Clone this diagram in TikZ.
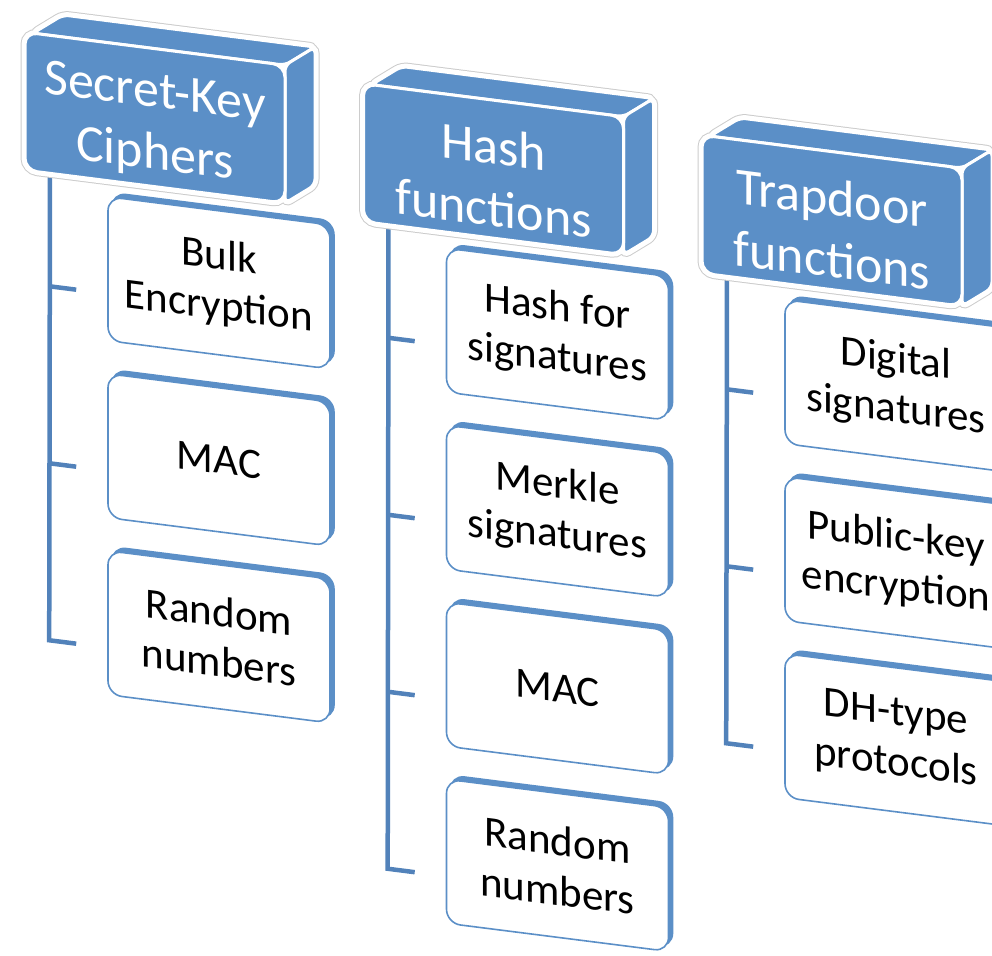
\documentclass[tikz,border=0pt]{standalone}
\usepackage{fontspec}
\setmainfont{Carlito}
\usetikzlibrary{calc,shadows}
\definecolor{accent}{HTML}{5B8FC7}
\definecolor{conn}{HTML}{5282BA}
\newcommand\blockfaces[1]{%
  \path[#1, rounded corners=6pt] (33,29) -- (63,7) -- (315,7) -- (285,29) -- cycle;
  \path[#1, rounded corners=6pt] (285,29) -- (315,7) -- (315,145) -- (285,167) -- cycle;
  \path[#1, rounded corners=12pt] (25,29) rectangle (285,167);
}
\begin{document}
\begin{tikzpicture}[x=1pt,y=-1pt,
  hdrtext/.style={text=white, font=\fontsize{52}{62}\selectfont, align=center, transform shape, inner sep=0pt},
  childbox/.style={rectangle, rounded corners=14pt, minimum width=222pt, minimum height=144pt,
     fill=white, draw=accent, line width=1.6pt, font=\fontsize{43}{50}\selectfont, align=center,
     transform shape, inner sep=0pt,
     copy shadow={shadow xshift=4pt, shadow yshift=4pt, fill=accent, draw=accent}},
  connline/.style={draw=conn, line width=4.5pt},
  outerline/.style={draw=black!20, line width=9pt},
  whiteline/.style={draw=white, fill=white, line width=7pt},
  facefill/.style={draw=white, fill=accent, line width=3pt}]
\useasboundingbox (0,0) rectangle (992,955);
\clip (0,0) rectangle (992,955);
\begin{scope}[cm={1,-0.127,0,1,(0,0)}]
 % ---------- column 1
 \begin{scope}
  \node[childbox] (c11) at (219,255) {Bulk\\Encryption};
  \node[childbox] (c12) at (219,432) {MAC};
  \node[childbox] (c13) at (219,609) {Random\\numbers};
  \coordinate (t1) at (50,160);
  \draw[connline] (t1) -- ($(c13.west)+(-58,25)$) -- ($(c13.west)+(-31,25)$);
  \draw[connline] ($(c11.west)+(-58,25)$) -- ($(c11.west)+(-31,25)$);
  \draw[connline] ($(c12.west)+(-58,25)$) -- ($(c12.west)+(-31,25)$);
  \blockfaces{outerline}
  \blockfaces{whiteline}
  \blockfaces{facefill}
  \node[hdrtext] (h1) at (155,106) {Secret-Key\\Ciphers};
 \end{scope}
 % ---------- column 2
 \begin{scope}[shift={(338.5,8.5)}]
  \node[childbox] (c21) at (219,255) {Hash for\\signatures};
  \node[childbox] (c22) at (219,432) {Merkle\\signatures};
  \node[childbox] (c23) at (219,609) {MAC};
  \node[childbox] (c24) at (219,786) {Random\\numbers};
  \coordinate (t2) at (50,160);
  \draw[connline] (t2) -- ($(c24.west)+(-58,25)$) -- ($(c24.west)+(-31,25)$);
  \draw[connline] ($(c21.west)+(-58,25)$) -- ($(c21.west)+(-31,25)$);
  \draw[connline] ($(c22.west)+(-58,25)$) -- ($(c22.west)+(-31,25)$);
  \draw[connline] ($(c23.west)+(-58,25)$) -- ($(c23.west)+(-31,25)$);
  \blockfaces{outerline}
  \blockfaces{whiteline}
  \blockfaces{facefill}
  \node[hdrtext] (h2) at (155,106) {Hash\\functions};
 \end{scope}
 % ---------- column 3
 \begin{scope}[shift={(677,17)}]
  \node[childbox] (c31) at (219,255) {Digital\\signatures};
  \node[childbox] (c32) at (219,432) {Public-key\\encryption};
  \node[childbox] (c33) at (219,609) {DH-type\\protocols};
  \coordinate (t3) at (50,160);
  \draw[connline] (t3) -- ($(c33.west)+(-58,25)$) -- ($(c33.west)+(-31,25)$);
  \draw[connline] ($(c31.west)+(-58,25)$) -- ($(c31.west)+(-31,25)$);
  \draw[connline] ($(c32.west)+(-58,25)$) -- ($(c32.west)+(-31,25)$);
  \blockfaces{outerline}
  \blockfaces{whiteline}
  \blockfaces{facefill}
  \node[hdrtext] (h3) at (155,106) {Trapdoor\\functions};
 \end{scope}
\end{scope}
\end{tikzpicture}
\end{document}
